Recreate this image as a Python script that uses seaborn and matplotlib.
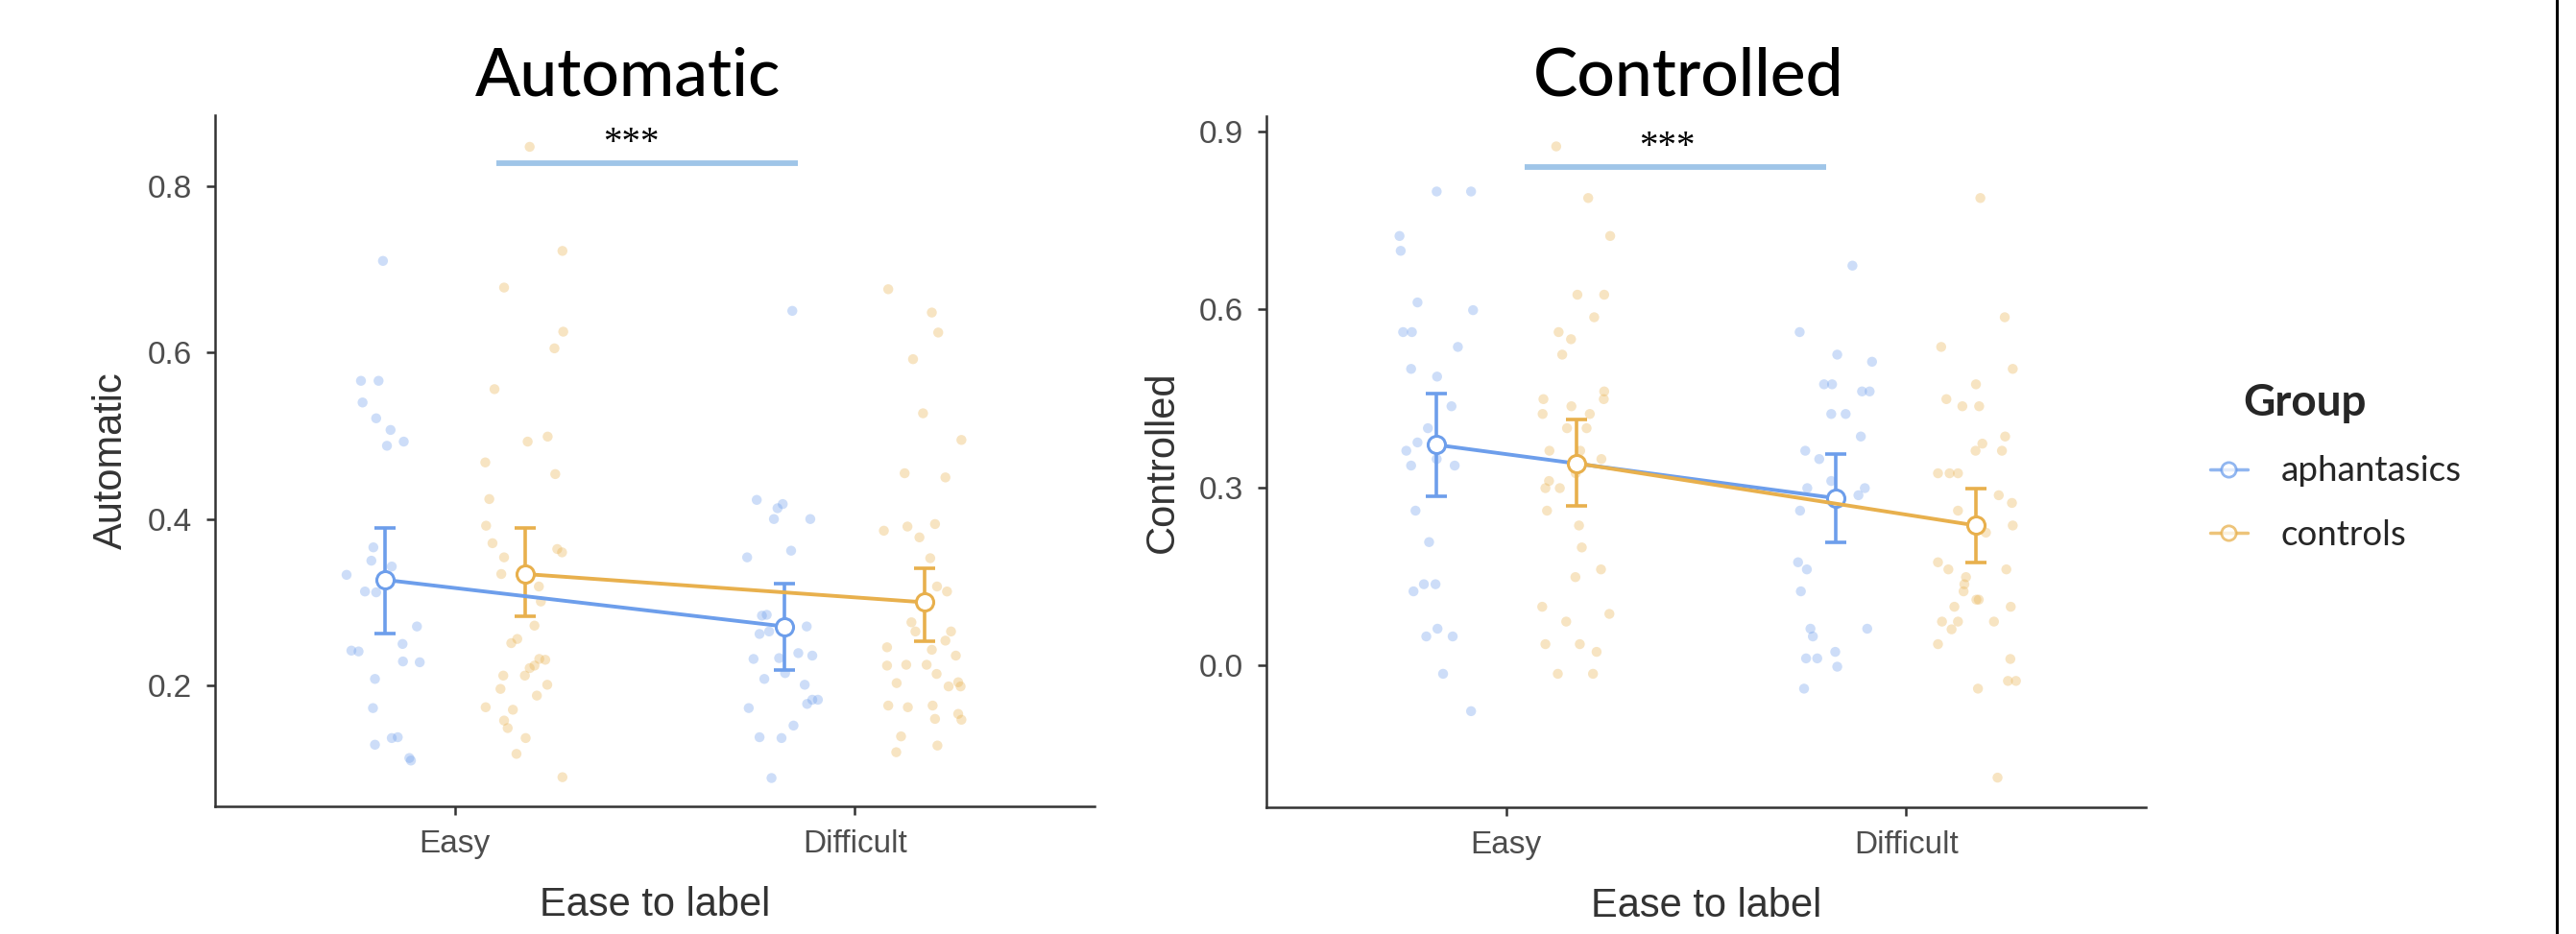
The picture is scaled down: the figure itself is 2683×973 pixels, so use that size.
import numpy as np
import pandas as pd
import matplotlib.pyplot as plt
import seaborn as sns
from matplotlib.lines import Line2D

# categorias / grupos
conditions = ["Easy", "Difficult"]
groups = ["aphantasics", "controls"]

# --- Automatic: pontos individuais (valor) e deslocamento horizontal ---
auto_aph_easy = [0.710, 0.566, 0.566, 0.540, 0.521, 0.507, 0.488, 0.493, 0.366, 0.350, 0.343, 0.333, 0.313, 0.312,
                 0.271, 0.242, 0.241, 0.250, 0.229, 0.228, 0.208, 0.173, 0.129, 0.137, 0.138, 0.113, 0.110]
auto_aph_easy_dx = [-0.180, -0.235, -0.191, -0.231, -0.197, -0.161, -0.170, -0.128, -0.204, -0.209, -0.158, -0.271,
                    -0.225, -0.197, -0.095, -0.259, -0.241, -0.131, -0.130, -0.088, -0.200, -0.205, -0.200, -0.158,
                    -0.143, -0.114, -0.110]
auto_ctl_easy = [0.847, 0.722, 0.678, 0.625, 0.605, 0.556, 0.493, 0.499, 0.468, 0.454, 0.424, 0.392, 0.371, 0.354,
                 0.364, 0.360, 0.334, 0.319, 0.301, 0.272, 0.251, 0.256, 0.232, 0.231, 0.224, 0.221, 0.212, 0.212,
                 0.196, 0.201, 0.188, 0.174, 0.171, 0.158, 0.149, 0.137, 0.118, 0.090]
auto_ctl_easy_dx = [0.187, 0.269, 0.123, 0.271, 0.249, 0.099, 0.182, 0.232, 0.076, 0.251, 0.086, 0.078, 0.094, 0.123,
                    0.256, 0.268, 0.116, 0.210, 0.215, 0.199, 0.141, 0.156, 0.211, 0.226, 0.199, 0.187, 0.121, 0.175,
                    0.114, 0.231, 0.205, 0.077, 0.145, 0.123, 0.132, 0.177, 0.154, 0.269]
auto_aph_diff = [0.650, 0.423, 0.418, 0.413, 0.400, 0.400, 0.362, 0.354, 0.284, 0.285, 0.262, 0.265, 0.271, 0.232,
                 0.233, 0.239, 0.236, 0.215, 0.208, 0.201, 0.183, 0.183, 0.178, 0.173, 0.152, 0.138, 0.137, 0.089]
auto_aph_diff_dx = [-0.156, -0.245, -0.180, -0.193, -0.202, -0.111, -0.159, -0.269, -0.232, -0.220, -0.238, -0.214,
                    -0.120, -0.253, -0.189, -0.141, -0.106, -0.174, -0.226, -0.125, -0.106, -0.092, -0.119, -0.265,
                    -0.153, -0.238, -0.183, -0.208]
auto_ctl_diff = [0.676, 0.648, 0.624, 0.592, 0.527, 0.495, 0.455, 0.450, 0.386, 0.391, 0.378, 0.394, 0.353, 0.319,
                 0.313, 0.276, 0.265, 0.265, 0.254, 0.246, 0.243, 0.236, 0.224, 0.225, 0.225, 0.214, 0.203, 0.199,
                 0.204, 0.199, 0.176, 0.174, 0.176, 0.160, 0.166, 0.159, 0.139, 0.120, 0.128]
auto_ctl_diff_dx = [0.084, 0.193, 0.209, 0.146, 0.171, 0.267, 0.125, 0.227, 0.073, 0.132, 0.162, 0.201, 0.189, 0.206,
                    0.231, 0.142, 0.152, 0.241, 0.227, 0.081, 0.193, 0.253, 0.081, 0.129, 0.180, 0.205, 0.105, 0.235,
                    0.259, 0.265, 0.084, 0.133, 0.195, 0.201, 0.259, 0.267, 0.116, 0.104, 0.207]

# --- Controlled ---
ctrl_aph_easy = [0.799, 0.799, 0.724, 0.699, 0.612, 0.599, 0.562, 0.562, 0.537, 0.500, 0.487, 0.437, 0.400, 0.376,
                 0.362, 0.348, 0.337, 0.337, 0.261, 0.208, 0.137, 0.137, 0.125, 0.062, 0.049, 0.049, -0.014, -0.077]
ctrl_aph_easy_dx = [-0.174, -0.088, -0.267, -0.264, -0.222, -0.083, -0.258, -0.236, -0.121, -0.238, -0.173, -0.137,
                    -0.196, -0.222, -0.250, -0.174, -0.238, -0.129, -0.227, -0.193, -0.206, -0.177, -0.232, -0.172,
                    -0.200, -0.134, -0.158, -0.088]
ctrl_ctl_easy = [0.875, 0.788, 0.724, 0.625, 0.625, 0.587, 0.562, 0.550, 0.524, 0.462, 0.449, 0.449, 0.424, 0.437,
                 0.424, 0.400, 0.400, 0.362, 0.362, 0.348, 0.311, 0.299, 0.299, 0.324, 0.261, 0.236, 0.199, 0.162,
                 0.149, 0.099, 0.074, 0.087, 0.036, 0.036, 0.023, -0.014, -0.014]
ctrl_ctl_easy_dx = [0.125, 0.205, 0.260, 0.178, 0.245, 0.220, 0.131, 0.162, 0.140, 0.245, 0.244, 0.093, 0.091, 0.163,
                    0.209, 0.152, 0.201, 0.108, 0.185, 0.238, 0.107, 0.098, 0.134, 0.174, 0.102, 0.182, 0.189, 0.237,
                    0.173, 0.090, 0.150, 0.258, 0.098, 0.184, 0.226, 0.129, 0.217]
ctrl_aph_diff = [0.674, 0.562, 0.524, 0.512, 0.474, 0.474, 0.462, 0.462, 0.424, 0.424, 0.386, 0.362, 0.348, 0.311,
                 0.299, 0.299, 0.287, 0.261, 0.174, 0.162, 0.125, 0.062, 0.049, 0.062, 0.023, 0.012, 0.012, -0.002,
                 -0.039]
ctrl_aph_diff_dx = [-0.134, -0.266, -0.172, -0.085, -0.205, -0.185, -0.110, -0.091, -0.187, -0.151, -0.113, -0.252,
                    -0.217, -0.187, -0.247, -0.103, -0.119, -0.265, -0.270, -0.248, -0.263, -0.239, -0.233, -0.097,
                    -0.177, -0.250, -0.222, -0.172, -0.255]
ctrl_ctl_diff = [0.788, 0.587, 0.537, 0.500, 0.474, 0.449, 0.437, 0.437, 0.386, 0.374, 0.362, 0.362, 0.324, 0.324,
                 0.324, 0.287, 0.274, 0.261, 0.236, 0.224, 0.174, 0.162, 0.162, 0.149, 0.137, 0.125, 0.111, 0.111,
                 0.099, 0.099, 0.074, 0.074, 0.074, 0.061, 0.036, 0.011, -0.026, -0.026, -0.039, -0.189]
ctrl_ctl_diff_dx = [0.186, 0.247, 0.088, 0.267, 0.175, 0.101, 0.141, 0.183, 0.248, 0.191, 0.174, 0.240, 0.080, 0.109,
                    0.130, 0.232, 0.265, 0.130, 0.267, 0.200, 0.080, 0.106, 0.251, 0.150, 0.146, 0.144, 0.176, 0.182,
                    0.121, 0.262, 0.090, 0.130, 0.220, 0.114, 0.080, 0.261, 0.255, 0.275, 0.180, 0.229]

# médias e IC (Easy, Difficult)
auto_aph_mean = [0.327, 0.271]
auto_aph_lo = [0.263, 0.219]
auto_aph_hi = [0.389, 0.323]
auto_ctl_mean = [0.334, 0.300]
auto_ctl_lo = [0.283, 0.253]
auto_ctl_hi = [0.389, 0.341]

ctrl_aph_mean = [0.372, 0.282]
ctrl_aph_lo = [0.285, 0.208]
ctrl_aph_hi = [0.458, 0.357]
ctrl_ctl_mean = [0.341, 0.236]
ctrl_ctl_lo = [0.269, 0.174]
ctrl_ctl_hi = [0.414, 0.299]

# barras de significância: (x inicio, x fim, y, x texto)
sig_auto = (0.104, 0.859, 0.827, 0.44)
sig_ctrl = (0.046, 0.800, 0.840, 0.403)

blue = "#6D9EEB"
orange = "#E8B04D"
palette = {"aphantasics": blue, "controls": orange}
dodge = 0.175


def points_df(lists):
    rows = []
    for (grp, ci, vals, dxs) in lists:
        for v, d in zip(vals, dxs):
            rows.append({"Group": grp, "x": ci + d, "value": v})
    return pd.DataFrame(rows)


def means_df(aph, ctl):
    rows = []
    for grp, sign, (m, lo, hi) in [("aphantasics", -1, aph), ("controls", 1, ctl)]:
        for ci in range(len(conditions)):
            rows.append({"Group": grp, "x": ci + sign * dodge, "mean": m[ci], "lo": lo[ci], "hi": hi[ci]})
    return pd.DataFrame(rows)


auto_pts = points_df([("aphantasics", 0, auto_aph_easy, auto_aph_easy_dx),
                      ("controls", 0, auto_ctl_easy, auto_ctl_easy_dx),
                      ("aphantasics", 1, auto_aph_diff, auto_aph_diff_dx),
                      ("controls", 1, auto_ctl_diff, auto_ctl_diff_dx)])
ctrl_pts = points_df([("aphantasics", 0, ctrl_aph_easy, ctrl_aph_easy_dx),
                      ("controls", 0, ctrl_ctl_easy, ctrl_ctl_easy_dx),
                      ("aphantasics", 1, ctrl_aph_diff, ctrl_aph_diff_dx),
                      ("controls", 1, ctrl_ctl_diff, ctrl_ctl_diff_dx)])
auto_means = means_df((auto_aph_mean, auto_aph_lo, auto_aph_hi), (auto_ctl_mean, auto_ctl_lo, auto_ctl_hi))
ctrl_means = means_df((ctrl_aph_mean, ctrl_aph_lo, ctrl_aph_hi), (ctrl_ctl_mean, ctrl_ctl_lo, ctrl_ctl_hi))

sns.set_style("ticks")
plt.rcParams["font.family"] = ["Liberation Sans", "DejaVu Sans"]

W, H = 2683, 973
fig = plt.figure(figsize=(W / 100, H / 100), dpi=100)
ax1 = fig.add_axes([224 / W, 133 / H, 916 / W, 720 / H])
ax2 = fig.add_axes([1319 / W, 132 / H, 916 / W, 720 / H])


def draw_panel(ax, pts, means, ylim, yticks, yticklabels, ylabel, sig):
    sns.scatterplot(data=pts, x="x", y="value", hue="Group", palette=palette, alpha=0.34,
                    s=56, edgecolor="none", legend=False, ax=ax, zorder=1)
    for grp in groups:
        m = means[means["Group"] == grp]
        ax.errorbar(m["x"], m["mean"], yerr=[m["mean"] - m["lo"], m["hi"] - m["mean"]], fmt="none",
                    ecolor=palette[grp], elinewidth=2.6, capsize=8, capthick=2.6, zorder=3)
    n0 = len(ax.lines)
    sns.lineplot(data=means, x="x", y="mean", hue="Group", palette=palette, marker="o", markersize=13,
                 markerfacecolor="white", markeredgewidth=2.2, linewidth=2.8, errorbar=None,
                 legend=False, ax=ax, zorder=4, sort=False)
    for ln in ax.lines[n0:]:
        ln.set_markeredgecolor(ln.get_color())

    x0, x1, ys, xt = sig
    ax.plot([x0, x1], [ys, ys], color="#9FC5E8", lw=4.2, solid_capstyle="butt", zorder=2)
    ax.text(xt, ys + (ylim[1] - ylim[0]) * 0.016, "***", ha="center", va="baseline", fontsize=28,
            family=["Liberation Serif", "DejaVu Serif"], color="black")

    ax.set_xlim(-0.6, 1.6)
    ax.set_ylim(*ylim)
    ax.set_xticks(range(len(conditions)))
    ax.set_xticklabels(conditions)
    ax.set_yticks(yticks)
    ax.set_yticklabels(yticklabels)
    ax.set_xlabel("Ease to label", fontsize=30, color="#333333")
    ax.set_ylabel(ylabel, fontsize=30, color="#333333")
    ax.xaxis.set_label_coords(0.5, -0.143)
    ax.xaxis.label.set_verticalalignment("center")
    ax.yaxis.set_label_coords(-0.118, 0.5)
    ax.yaxis.label.set_verticalalignment("center")
    ax.tick_params(direction="out", length=6.5, width=1.8, color="#333333", labelsize=24,
                   labelcolor="#4D4D4D", pad=11)
    sns.despine(ax=ax)
    for s in ["left", "bottom"]:
        ax.spines[s].set_color("#333333")
        ax.spines[s].set_linewidth(1.8)
    ax.grid(False)


draw_panel(ax1, auto_pts, auto_means, (0.055, 0.885), [0.2, 0.4, 0.6, 0.8],
           ["0.2", "0.4", "0.6", "0.8"], "Automatic", sig_auto)
draw_panel(ax2, ctrl_pts, ctrl_means, (-0.239, 0.926), [0.0, 0.3, 0.6, 0.9],
           ["0.0", "0.3", "0.6", "0.9"], "Controlled", sig_ctrl)

# títulos
title_font = ["Lato", "DejaVu Sans"]
fig.text(654 / W, 1 - 99 / H, "Automatic", ha="center", va="baseline", fontsize=50, family=title_font,
         weight="medium", color="black")
fig.text(1759 / W, 1 - 99 / H, "Controlled", ha="center", va="baseline", fontsize=50, family=title_font,
         weight="medium", color="black")

# legenda
fig.text(2336 / W, 1 - 433 / H, "Group", ha="left", va="baseline", fontsize=33, family=title_font,
         weight="bold")
handles = [Line2D([], [], color=palette[g], lw=2.5, marker="o", markersize=11, markerfacecolor="white",
                  markeredgecolor=palette[g], markeredgewidth=2, alpha=0.75) for g in groups]
fig.legend(handles, groups, loc="center left", bbox_to_anchor=(2302 / W, 1 - 524 / H), frameon=False,
           prop={"family": title_font, "size": 26.5}, handlelength=1.05, handletextpad=0.95,
           labelspacing=0.9, borderpad=0, borderaxespad=0)

# borda vertical à direita
fig.add_artist(Line2D([2663 / W, 2663 / W], [0, 1], color="black", lw=2.2, transform=fig.transFigure))

fig.savefig("out.png", dpi=100)
